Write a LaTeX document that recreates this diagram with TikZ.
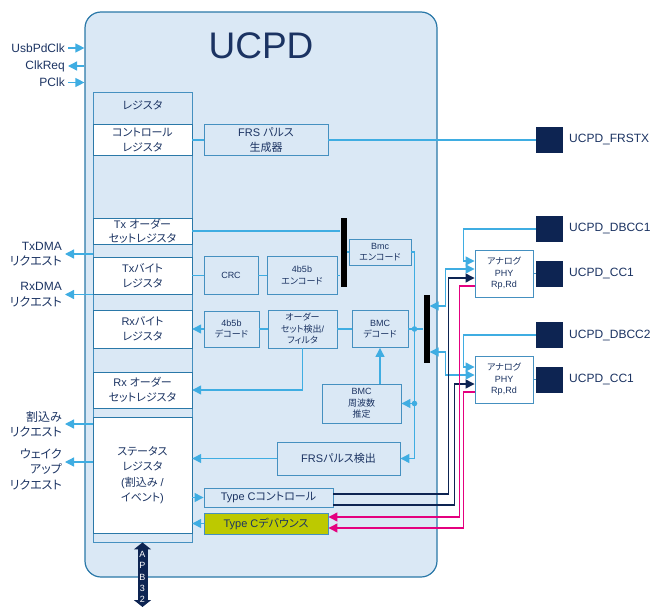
\documentclass[tikz,border=0pt]{standalone}
\usepackage{fontspec}
\setmainfont{Liberation Sans}
\newfontfamily\jp{Noto Sans CJK JP}[RawFeature=+palt]
\usepackage{tikz}
\usetikzlibrary{positioning,calc,arrows.meta}
\definecolor{ucpdfill}{HTML}{DAE8F5}
\definecolor{ucpdline}{HTML}{2A78A8}
\definecolor{blkline}{HTML}{4590C0}
\definecolor{wireblue}{HTML}{3FADE2}
\definecolor{navy}{HTML}{0D2452}
\definecolor{txt}{HTML}{1B3362}
\definecolor{pinkwire}{HTML}{E4007F}
\definecolor{lime}{HTML}{BDC900}

\begin{document}
\begin{tikzpicture}[x=1pt,y=-1pt,>={Triangle[length=9pt,width=9pt]},
    reg/.style={rectangle,draw=ucpdline,fill=white,text=txt,minimum width=99pt,inner sep=0pt,align=center,font=\fontsize{11}{15}\selectfont},
    blk/.style={rectangle,draw=blkline,line width=0.9pt,fill=ucpdfill,text=txt,inner sep=0pt,align=center,font=\fontsize{11}{15.5}\selectfont},
    sblk/.style={blk,font=\fontsize{9}{11.5}\selectfont},
    bar/.style={rectangle,fill=black,minimum width=6pt,inner sep=0pt},
    pin/.style={rectangle,fill=navy,minimum width=27pt,minimum height=26pt,inner sep=0pt},
    pinname/.style={anchor=west,text=txt,inner sep=0pt,font=\fontsize{12}{14}\selectfont},
    sig/.style={anchor=east,text=txt,inner xsep=3pt,inner ysep=0pt,align=right,font=\fontsize{12}{15.5}\selectfont},
    conn/.style={draw=wireblue,line width=1.3pt},
    navyline/.style={draw=navy,line width=1.3pt},
    pinkline/.style={draw=pinkwire,line width=1.3pt}]

\useasboundingbox (0,0) rectangle (654,608);

% UCPD block
\node[draw=ucpdline,fill=ucpdfill,line width=1.2pt,rounded corners=16pt,minimum width=352pt,minimum height=565pt] (ucpd) at (261,294.5) {};
\node[text=txt,font=\fontsize{37}{40}\selectfont] (title) at (261,46) {UCPD};

% clocks
\node[sig] (usbpd) at (68,48) {UsbPdClk};
\node[sig] (clkreq) at (68,66) {ClkReq};
\node[sig] (pclk) at (68,82.5) {PClk};
\draw[conn,->] (usbpd.east) -- (usbpd.east -| ucpd.west);
\draw[conn,<-] (clkreq.east) -- (clkreq.east -| ucpd.west);
\draw[conn,->] (pclk.east) -- (pclk.east -| ucpd.west);

% registers
\node[blk,draw=blkline,minimum width=99pt,minimum height=450pt] (regcol) at (142.5,317) {};
\node[text=txt,font=\fontsize{11}{15}\selectfont] (regtitle) at (142.5,105) {\jp レジスタ};
\node[reg,minimum height=31pt] (ctrlreg) at (142.5,140) {{\jp コントロール}\\{\jp レジスタ}};
\node[reg,minimum height=26pt,font=\fontsize{11}{14}\selectfont] (txos) at (142.5,231) {Tx {\jp オーダー}\\{\jp セットレジスタ}};
\node[reg,minimum height=37pt] (txbyte) at (142.5,275.5) {Tx{\jp バイト}\\{\jp レジスタ}};
\node[reg,minimum height=38pt] (rxbyte) at (142.5,329) {Rx{\jp バイト}\\{\jp レジスタ}};
\node[reg,minimum height=36pt] (rxos) at (142.5,390) {Rx {\jp オーダー}\\{\jp セットレジスタ}};
\node[reg,minimum height=116pt,font=\fontsize{11}{15.5}\selectfont] (status) at (142.5,475) {{\jp ステータス}\\{\jp レジスタ}\\({\jp 割込み} /\\{\jp イベント})};

% requests
\node[sig] (txdma) at (65,254) {TxDMA\\{\jp リクエスト}};
\node[sig] (rxdma) at (65,294.5) {RxDMA\\{\jp リクエスト}};
\node[sig] (irq) at (65,424) {{\jp 割込み}\\{\jp リクエスト}};
\node[sig] (wake) at (65,469) {{\jp ウェイク}\\{\jp アップ}\\{\jp リクエスト}};
\draw[conn,<-] (txdma.east) -- (txdma.east -| regcol.west);
\draw[conn,<-] (rxdma.east) -- (rxdma.east -| regcol.west);
\draw[conn,<-] (irq.east) -- (irq.east -| regcol.west);
\draw[conn,<-] ([yshift=7pt]wake.east) -- ([yshift=7pt]wake.east -| regcol.west);

% tx / rx path
\node[blk,minimum width=124pt,minimum height=31pt] (frsgen) at (266,140) {FRS {\jp パルス}\\{\jp 生成器}};
\node[sblk,minimum width=54pt,minimum height=38pt] (crc) at (231,275.5) {CRC};
\node[sblk,minimum width=70pt,minimum height=38pt] (enc) at (302,275.5) {4b5b\\{\jp エンコード}};
\node[sblk,minimum width=62pt,minimum height=26pt] (bmcenc) at (380,252) {Bmc\\{\jp エンコード}};
\node[sblk,minimum width=55pt,minimum height=36pt] (dec) at (231.5,329) {4b5b\\{\jp デコード}};
\node[sblk,minimum width=69pt,minimum height=38pt] (ordset) at (302.5,329) {{\jp オーダー}\\{\jp セット検出}/\\{\jp フィルタ}};
\node[sblk,minimum width=56pt,minimum height=37pt] (bmcdec) at (380,329) {BMC\\{\jp デコード}};
\node[sblk,minimum width=79pt,minimum height=39pt] (bmcfreq) at (361.5,403.5) {BMC\\{\jp 周波数}\\{\jp 推定}};
\node[blk,minimum width=123pt,minimum height=33pt] (frsdet) at (338.5,458.5) {FRS{\jp パルス検出}};
\node[blk,minimum width=129pt,minimum height=19pt] (tcctrl) at (268.5,497.5) {Type C{\jp コントロール}};
\node[blk,fill=lime,minimum width=124pt,minimum height=21pt] (tcdeb) at (266,523.5) {Type C{\jp デバウンス}};

\node[bar,minimum height=69pt] (bar1) at (343.5,252.5) {};
\node[bar,minimum height=68pt] (bar2) at (426.5,329) {};

% analog side
\node[sblk,fill=white,minimum width=58pt,minimum height=47pt] (phy1) at (504,273.5) {{\jp アナログ}\\PHY\\Rp,Rd};
\node[sblk,fill=white,minimum width=58pt,minimum height=47pt] (phy2) at (504,379.5) {{\jp アナログ}\\PHY\\Rp,Rd};

\node[pin] (frstx) at (549.5,140) {};
\node[pin] (dbcc1) at (549.5,229) {};
\node[pin] (cc1) at (549.5,273.5) {};
\node[pin] (dbcc2) at (549.5,335) {};
\node[pin] (cc2) at (549.5,379.5) {};
\node[pinname] (frstxname) at (569,140) {UCPD\_FRSTX};
\node[pinname] (dbcc1name) at (569,229) {UCPD\_DBCC1};
\node[pinname] (cc1name) at (569,273.5) {UCPD\_CC1};
\node[pinname] (dbcc2name) at (569,335) {UCPD\_DBCC2};
\node[pinname] (cc2name) at (569,379.5) {UCPD\_CC1};

% APB
\coordinate (apbend) at (142.5,607);
\draw[navy,line width=10pt,{Triangle[length=7pt,width=17pt]}-{Triangle[length=7pt,width=17pt]}] (regcol.south) -- (apbend);
\node[text=white,align=center,inner sep=0pt,font=\fontsize{9}{11.3}\selectfont] (apb) at (142.5,577) {A\\P\\B\\3\\2};

% connections
\draw[conn] (ctrlreg) -- (frsgen);
\draw[conn] (frsgen) -- (frstx);
\draw[conn] (txos.east) -- (txos.east -| bar1.west);
\draw[conn] (txbyte) -- (crc);
\draw[conn] (crc) -- (enc);
\draw[conn] (enc.east) -- (enc.east -| bar1.west);
\draw[conn] (bar1.east |- bmcenc.west) -- (bmcenc.west);
\draw[conn,->] (bmcenc.east) -- ++(3,0) coordinate (bmcbus) |- (frsdet.east);
\draw[conn] (bmcdec.east) -- (bmcdec.east -| bar2.west);
\fill[wireblue] (bmcbus |- bmcdec.east) circle (2.8pt);
\draw[conn,->] (bmcbus |- bmcfreq.east) -- (bmcfreq.east);
\fill[wireblue] (bmcbus |- bmcfreq.east) circle (2.8pt);
\draw[conn,->] (bmcdec.south |- bmcfreq.north) -- (bmcdec.south);
\draw[conn] (ordset) -- (bmcdec);
\draw[conn] (dec) -- (ordset);
\draw[conn,->] (dec) -- (rxbyte);
\draw[conn,->] (ordset.south) |- (rxos.east);
\draw[conn,->] (frsdet.west) -- (frsdet.west -| status.east);
\draw[conn,->] (status.east |- tcctrl.west) -- (tcctrl.west);
\draw[conn,->] (tcdeb.west) -- (tcdeb.west -| status.east);

\draw[conn,<->] ($(phy1.west)+(0,-4.5)$) -| ($(bar2.east)+(16,-23)$) -- ($(bar2.east)+(0,-23)$);
\draw[conn,<->] ($(phy2.west)+(0,-4.5)$) -| ($(bar2.east)+(16,23)$) -- ($(bar2.east)+(0,23)$);
\draw[conn,->] (dbcc1.west) -| ($(phy1.west)+(-11,-12.5)$) -- ($(phy1.west)+(0,-12.5)$);
\draw[conn,->] (dbcc2.west) -| ($(phy2.west)+(-11,-12.5)$) -- ($(phy2.west)+(0,-12.5)$);
\draw[conn,draw=blkline,line width=0.8pt] (phy1) -- (cc1);
\draw[conn,draw=blkline,line width=0.8pt] (phy2) -- (cc2);

\draw[navyline,->] ($(tcctrl.east)+(0,-3.5)$) -| ($(phy1.west)+(-26,4.5)$) -- ($(phy1.west)+(0,4.5)$);
\draw[navyline,->] ($(tcctrl.east)+(0,7.5)$) -| ($(phy2.west)+(-20,4.5)$) -- ($(phy2.west)+(0,4.5)$);
\draw[pinkline,<-] ($(tcdeb.east)+(0,-6.5)$) -| ($(phy1.west)+(-15,12.5)$) -- ($(phy1.west)+(0,12.5)$);
\draw[pinkline,<-] ($(tcdeb.east)+(0,4.5)$) -| ($(phy2.west)+(-11,12.5)$) -- ($(phy2.west)+(0,12.5)$);

\end{tikzpicture}
\end{document}
